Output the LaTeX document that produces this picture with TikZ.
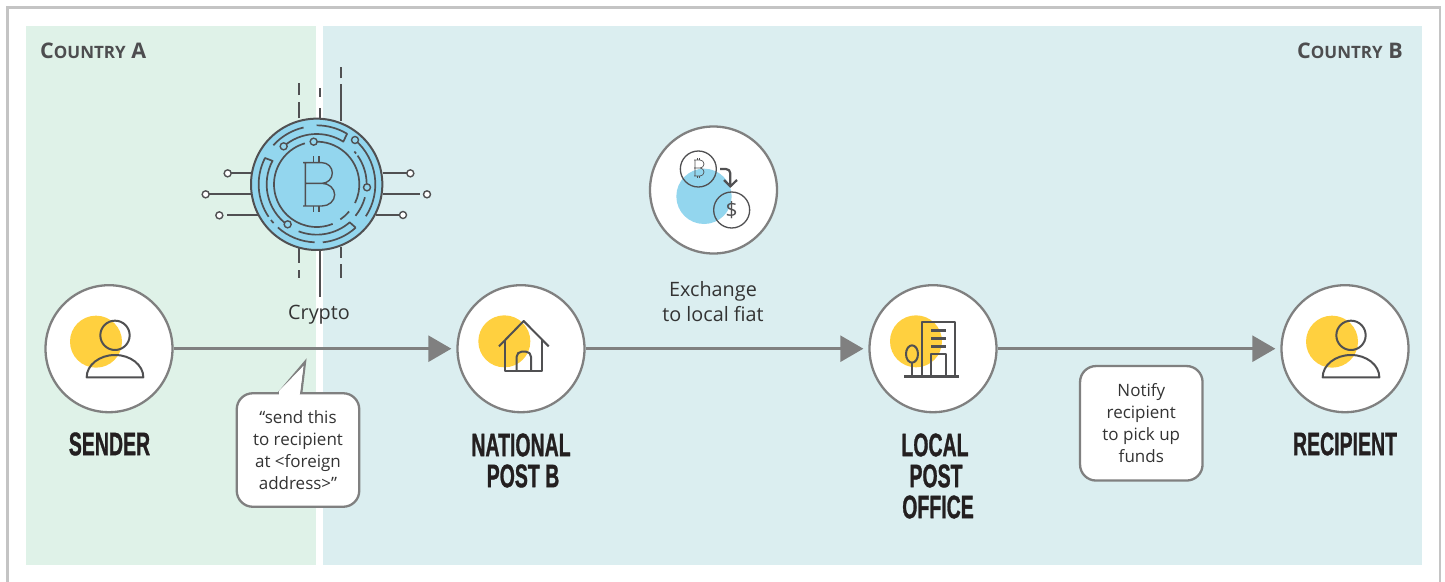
\documentclass[tikz,border=0pt]{standalone}
\usepackage{fontspec}
\setmainfont{Open Sans}
\newfontfamily\headfont[BoldFeatures={FakeBold=1.3}]{Liberation Sans}
\usetikzlibrary{arrows.meta,calc}
\definecolor{greenbg}{HTML}{DFF2E8}
\definecolor{bluebg}{HTML}{DBEEF0}
\definecolor{framegray}{HTML}{C4C4C4}
\definecolor{ringgray}{HTML}{808080}
\definecolor{icongray}{HTML}{505052}
\definecolor{sunyellow}{HTML}{FFD03F}
\definecolor{coinblue}{HTML}{93D6EE}
\definecolor{inkdark}{HTML}{231F20}
\definecolor{bodyink}{HTML}{333333}
\definecolor{ctryink}{HTML}{4D4D4F}
\newcommand{\headtext}[1]{\scalebox{.6}[1]{\headfont\bfseries\fontsize{32.5}{34}\selectfont #1}}
\newcommand{\ctry}[2]{{\fontsize{21.5}{22}\selectfont\bfseries #1}{\fontsize{17}{22}\selectfont\bfseries #2}}
\tikzset{
  stage/.style={circle,draw=ringgray,line width=2.3pt,fill=white,minimum size=127pt,inner sep=0pt},
  flowarrow/.style={draw=ringgray,line width=2.6pt,-{Triangle[length=23pt,width=26pt,fill=ringgray]},shorten >=5pt},
  headlabel/.style={align=center,inner sep=0pt,text=inkdark},
  bodylabel/.style={align=center,inner sep=0pt,font=\fontsize{19.8}{25.7}\selectfont,text=bodyink},
  countrylabel/.style={inner sep=0pt,text=ctryink},
  notebox/.style={draw=ringgray,line width=2.3pt,fill=white,rounded corners=16pt,align=center,inner sep=0pt,font=\fontsize{17}{22}\selectfont,text=bodyink},
  icon/.style={draw=icongray,line width=1.7pt,line join=round},
  iconthick/.style={draw=icongray,line width=2pt,line join=round},
  dot/.style={circle,draw=icongray,line width=1.4pt,fill=white,minimum size=7pt,inner sep=0pt},
}
\begin{document}
\begin{tikzpicture}[x=1pt,y=-1pt]
\useasboundingbox (0,0) rectangle (1445,581);
\fill[white] (0,0) rectangle (1445,581);
\draw[framegray,line width=2.4pt] (7.5,590) -- (7.5,7.5) -- (1440,7.5) -- (1440,590);
\fill[greenbg] (26,26) rectangle (316,565);
\fill[bluebg] (323,26) rectangle (1422,565);
\node[countrylabel,anchor=west] (ca) at (40,51) {\ctry{C}{OUNTRY}\hspace{3pt} \ctry{A}{}};
\node[countrylabel,anchor=east] (cb) at (1403,51) {\ctry{C}{OUNTRY}\hspace{3pt} \ctry{B}{}};

% stage circles
\node[stage] (sender) at (109,348.7) {};
\node[stage] (post) at (521,348.7) {};
\node[stage] (office) at (933,348.7) {};
\node[stage] (recipient) at (1345,348.7) {};
\node[stage] (exch) at (713.5,190) {};

% arrows
\draw[flowarrow] (sender) -- (post);
\draw[flowarrow] (post) -- (office);
\draw[flowarrow] (office) -- (recipient);

% person icons
\foreach \cx in {109,1345}{
\begin{scope}[shift={(\cx-79,280)},x=1/3*1pt,y=-1/3*1pt]
 \fill[sunyellow] (198,185) circle (78);
 \draw[iconthick] (255,166) circle (44);
 \draw[iconthick] (170,292) arc[start angle=180,end angle=360,x radius=85,y radius=67] -- cycle;
\end{scope}}

% house icon
\begin{scope}[shift={(450,280)},x=1/3*1pt,y=-1/3*1pt]
 \fill[sunyellow] (163,184) circle (78);
 \draw[iconthick] (147,199) -- (221,123) -- (296,199);
 \draw[iconthick] (165,180) -- (165,272) -- (277,272) -- (277,180);
 \draw[iconthick] (200,272) -- (200,230) arc[start angle=180,end angle=270,radius=15] -- (228,215) arc[start angle=270,end angle=360,radius=15] -- (243,272);
\end{scope}

% office icon
\begin{scope}[shift={(860,280)},x=1/3*1pt,y=-1/3*1pt]
 \fill[sunyellow] (168,184) circle (78);
 \draw[iconthick] (187,289) -- (187,126) -- (286,126) -- (286,289);
 \draw[iconthick] (212,289) -- (212,222) -- (259,222) -- (259,289);
 \draw[iconthick,line width=2.4pt] (213,151) -- (258,151) (213,175) -- (258,175) (213,199) -- (258,199);
 \draw[iconthick] (156,222) ellipse (18 and 26);
 \draw[iconthick] (156,248) -- (156,289);
 \draw[iconthick,line width=2.4pt] (132,289) -- (297,289);
\end{scope}

% crypto coin
\begin{scope}[shift={(190,55)},x=1/3*1pt,y=-1/3*1pt]
 \coordinate (cc) at (380,388);
 % spokes
 \draw[icon] (327,190) -- (327,140) (327,120) -- (327,84);
 \draw[icon] (390,190) -- (390,158) (390,125) -- (390,98);
 \draw[icon] (452,198) -- (452,87) (452,70) -- (452,36);
 \draw[icon] (327,578) -- (327,625) (327,645) -- (327,670);
 \draw[icon] (390,585) -- (390,727);
 \draw[icon] (452,575) -- (452,610) (452,628) -- (452,670);
 \draw[icon] (185,355) -- (124,355) (185,418) -- (58,418) (205,480) -- (112,480);
 \draw[icon] (578,355) -- (650,355) (578,418) -- (690,418) (558,480) -- (628,480);
 \node[dot] (d1) at (113,355) {};
 \node[dot] (d2) at (47,418) {};
 \node[dot] (d3) at (88,481) {};
 \node[dot] (d4) at (661,355) {};
 \node[dot] (d5) at (711,418) {};
 \node[dot] (d6) at (639,480) {};
 % disc
 \draw[icon,fill=coinblue,line width=2pt] (cc) circle (197);
 % rings
 \draw[icon] ($(cc)+({175*cos(103)},{-175*sin(103)})$) arc[start angle=-103,end angle=-138,radius=175];
 \draw[icon] ($(cc)+({177*cos(90)},{-177*sin(90)})$) arc[start angle=-90,end angle=-59,radius=177]
   -- ($(cc)+({151*cos(58)},{-151*sin(58)})$) arc[start angle=-58,end angle=-131,radius=151];
 \draw[icon] ($(cc)+({128*cos(106)},{-128*sin(106)})$) arc[start angle=-106,end angle=-292,radius=128];
 \draw[icon] ($(cc)+({128*cos(94)},{-128*sin(94)})$) arc[start angle=-94,end angle=26,radius=128];
 \draw[icon] ($(cc)+({176*cos(49)},{-176*sin(49)})$) arc[start angle=-49,end angle=33,radius=176];
 \draw[icon] ($(cc)+({150*cos(41)},{-150*sin(41)})$) arc[start angle=-41,end angle=-38,radius=150];
 \draw[icon] ($(cc)+({150*cos(35)},{-150*sin(35)})$) arc[start angle=-35,end angle=3,radius=150];
 \draw[icon] ($(cc)+({150*cos(-15)},{-150*sin(-15)})$) arc[start angle=15,end angle=39,radius=150];
 \draw[icon] ($(cc)+({127*cos(-40)},{-127*sin(-40)})$) arc[start angle=40,end angle=56,radius=127];
 \draw[icon] ($(cc)+({175*cos(-48)},{-175*sin(-48)})$) arc[start angle=48,end angle=84,radius=175];
 \draw[icon] ($(cc)+({175*cos(-48)},{-175*sin(-48)})$) -- ($(cc)+({151*cos(-49)},{-151*sin(-49)})$) arc[start angle=49,end angle=111,radius=151];
 \draw[icon] ($(cc)+({174*cos(-92)},{-174*sin(-92)})$) arc[start angle=92,end angle=132,radius=174];
 \draw[icon] ($(cc)+({174*cos(-142)},{-174*sin(-142)})$) arc[start angle=142,end angle=138,radius=174];
 \draw[icon] ($(cc)+({150*cos(234)},{-150*sin(234)})$) arc[start angle=-234,end angle=-152,radius=150]
   -- ($(cc)+({174*cos(153)},{-174*sin(153)})$) arc[start angle=-153,end angle=-214,radius=174];
 \node[dot,fill=coinblue] (r1) at (281,274) {};
 \node[dot,fill=coinblue] (r2) at (371,260) {};
 \node[dot,fill=coinblue] (r3) at (495,255) {};
 \node[dot,fill=coinblue] (r4) at (531,397) {};
 \node[dot,fill=coinblue] (r5) at (293,508) {};
 % B
 \draw[icon,line width=1.4pt] (339,323) -- (396,323) arc[start angle=-90,end angle=90,radius=31] -- (346,385)
   (396,385) arc[start angle=-90,end angle=90,x radius=38,y radius=34] -- (339,453)
   (346,323) -- (346,453);
 \draw[icon,line width=1.4pt] (370,323) -- (370,303) (387,323) -- (387,303) (370,453) -- (370,472) (387,453) -- (387,472);
\end{scope}

% exchange icon
\begin{scope}[shift={(640,120)},x=1/3*1pt,y=-1/3*1pt]
 \fill[coinblue] (192,229) circle (83);
 \draw[draw=icongray,line width=1.3pt] (175,147) circle (54);
 \draw[draw=icongray,line width=1.3pt] (275,270) circle (54);
 \draw[draw=icongray,line width=2.2pt] (240,147) -- (258,147) arc[start angle=-90,end angle=0,radius=13] -- (271,198);
 \draw[draw=icongray,line width=2.2pt] (252,180) -- (271,199) -- (291,180);
 \draw[draw=icongray,line width=.7pt] (162,120) -- (180,120) arc[start angle=-90,end angle=90,radius=12] -- (162,144)
   (180,144) arc[start angle=-90,end angle=90,radius=12] -- (162,168) (165,120) -- (165,168);
 \draw[draw=icongray,line width=.7pt] (171,120) -- (171,114) (179,120) -- (179,114) (171,168) -- (171,174) (179,168) -- (179,174);
 \node[inner sep=0pt,text=icongray,font=\fontsize{21}{21}\selectfont] (usd) at (275,270) {\$};
\end{scope}

% labels
\node[headlabel] (l1) at (109.5,444) {\headtext{SENDER}};
\node[headlabel] (l2) at (521,445) {\headtext{NATIONAL}};
\node[headlabel] (l2b) at (523,476) {\headtext{POST B}};
\node[headlabel] (l3) at (935,445) {\headtext{LOCAL}};
\node[headlabel] (l3b) at (936,476) {\headtext{POST}};
\node[headlabel] (l3c) at (938,507) {\headtext{OFFICE}};
\node[headlabel] (l4) at (1345,444) {\headtext{RECIPIENT}};
\node[bodylabel] (crypto) at (319,315) {Crypto};
\node[bodylabel] (exlabel) at (713,301.5) {Exchange\\to local fiat};

% notify box
\node[notebox,minimum width=122.5pt,minimum height=114.5pt] (notify) at (1141.3,423.3) {Notify\\recipient\\to pick up\\funds};

% callout
\draw[draw=ringgray,line width=2.3pt,fill=white,line join=miter] (277,395) -- (305,362) -- (301,395);
\node[notebox,minimum width=122.5pt,minimum height=113.5pt] (note) at (298,450) {“send this\\to recipient\\at <foreign\\address>”};
\fill[white] (279,391) -- (303.5,366) -- (299.5,396) -- (279,396) -- cycle;
\end{tikzpicture}
\end{document}
